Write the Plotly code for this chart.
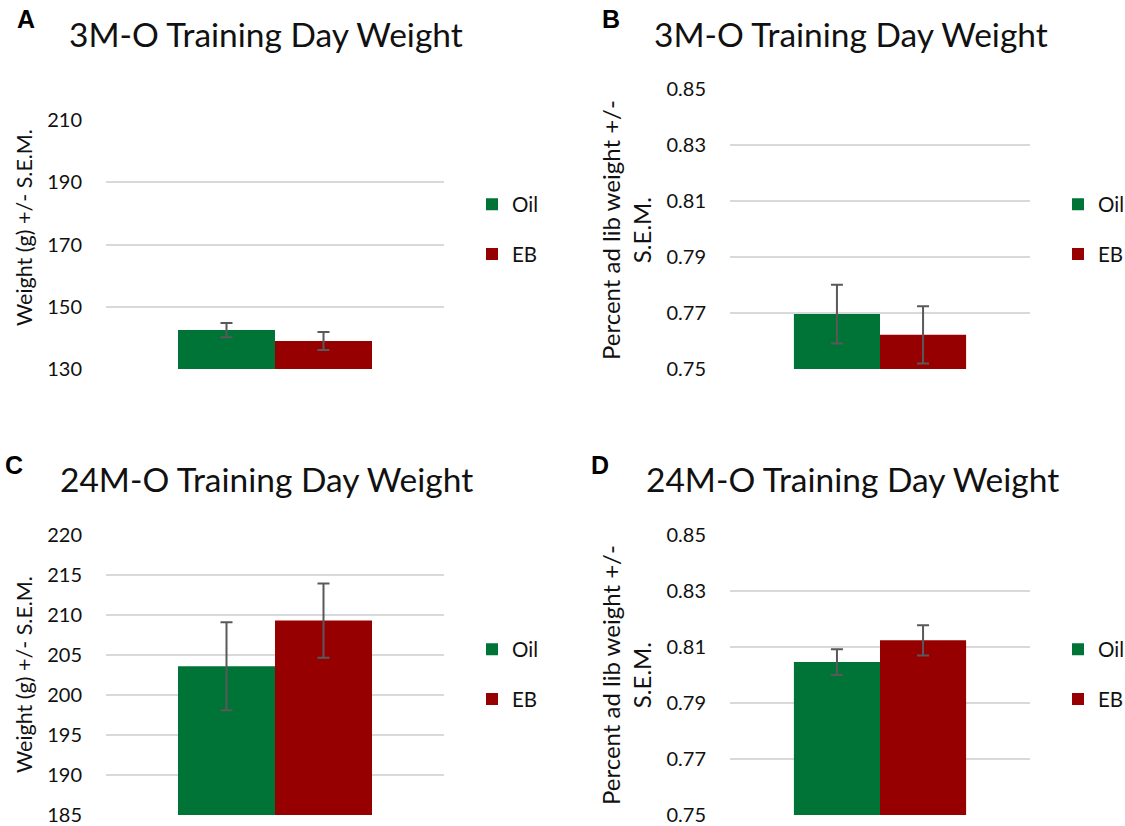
import plotly.graph_objects as go

W, H = 1125, 826

groups = ["Oil", "EB"]
colors = {"Oil": "#007336", "EB": "#960000"}
category = ["Training Day"]

# Panel A: 3M-O weight (g)
a_mean = [142.5, 139.0]
a_sem = [2.3, 2.9]
# Panel B: 3M-O percent ad lib weight
b_mean = [0.7696, 0.7622]
b_sem = [0.0105, 0.0102]
# Panel C: 24M-O weight (g)
c_mean = [203.6, 209.3]
c_sem = [5.5, 4.65]
# Panel D: 24M-O percent ad lib weight
d_mean = [0.8046, 0.8124]
d_sem = [0.0046, 0.0054]

a_ticks = [130, 150, 170, 190, 210]
b_ticks = [0.75, 0.77, 0.79, 0.81, 0.83, 0.85]
c_ticks = [185, 190, 195, 200, 205, 210, 215, 220]
d_ticks = [0.75, 0.77, 0.79, 0.81, 0.83, 0.85]

titles = ["3M-O Training Day Weight", "3M-O Training Day Weight",
          "24M-O Training Day Weight", "24M-O Training Day Weight"]
letters = ["A", "B", "C", "D"]
ytitles = ["Weight (g) +/- S.E.M.", "Percent ad lib weight +/-<br>S.E.M.",
           "Weight (g) +/- S.E.M.", "Percent ad lib weight +/-<br>S.E.M."]
ytitle_sizes = [21.5, 24, 21.5, 24]

FONT = "Lato"
TXT = "#111111"

def px_x(p):
    return p / W

def px_y(p):
    return 1 - p / H

fig = go.Figure()

panels = [
    (a_mean, a_sem, "", "legend"),
    (b_mean, b_sem, "2", "legend2"),
    (c_mean, c_sem, "3", "legend3"),
    (d_mean, d_sem, "4", "legend4"),
]

for means, sems, sfx, leg in panels:
    for i, g in enumerate(groups):
        fig.add_trace(go.Bar(
            x=category, y=[means[i]], name=g,
            marker=dict(color=colors[g], line=dict(width=0)),
            error_y=dict(type="data", array=[sems[i]], visible=True,
                         color="#595959", thickness=2, width=6),
            xaxis="x" + sfx, yaxis="y" + sfx, legend=leg,
            legendgroup=g + sfx, showlegend=True,
        ))

# domains in pixels
xdom_left = [px_x(106), px_x(444)]
xdom_right = [px_x(730), px_x(1030)]
ydom_a = [px_y(369), px_y(120)]
ydom_b = [px_y(369), px_y(89)]
ydom_cd = [px_y(815), px_y(535)]

def yaxis_cfg(dom, ticks, rng, fmt):
    return dict(domain=dom, range=rng, tickvals=ticks, tickformat=fmt,
                showgrid=True, gridcolor="#d9d9d9", gridwidth=1.5,
                zeroline=False, showline=False, ticks="",
                ticklabelstandoff=23, automargin=False,
                tickfont=dict(family=FONT, size=20, color=TXT),
                fixedrange=True)

def xaxis_cfg(dom, anchor):
    return dict(domain=dom, anchor=anchor, showticklabels=False,
                showgrid=False, zeroline=False, showline=False, ticks="",
                automargin=False, fixedrange=True)

layout = dict(
    width=W, height=H, margin=dict(l=0, r=0, t=0, b=0, pad=0, autoexpand=False),
    paper_bgcolor="white", plot_bgcolor="white",
    barmode="group", bargap=0.426, bargroupgap=0,
    font=dict(family=FONT, color=TXT),
    xaxis=xaxis_cfg(xdom_left, "y"),
    yaxis=yaxis_cfg(ydom_a, a_ticks, [130, 210], ".0f") | dict(anchor="x"),
    xaxis2=xaxis_cfg(xdom_right, "y2"),
    yaxis2=yaxis_cfg(ydom_b, b_ticks, [0.75, 0.85], ".2f") | dict(anchor="x2"),
    xaxis3=xaxis_cfg(xdom_left, "y3"),
    yaxis3=yaxis_cfg(ydom_cd, c_ticks, [185, 220], ".0f") | dict(anchor="x3"),
    xaxis4=xaxis_cfg(xdom_right, "y4"),
    yaxis4=yaxis_cfg(ydom_cd, d_ticks, [0.75, 0.85], ".2f") | dict(anchor="x4"),
)

def legend_cfg(x, y):
    return dict(x=x, y=y, xanchor="left", yanchor="middle",
                traceorder="grouped", tracegroupgap=20,
                bgcolor="rgba(0,0,0,0)", itemwidth=30,
                font=dict(family=FONT, size=20.5, color=TXT))

layout["legend"] = legend_cfg(px_x(472), px_y(229.5))
layout["legend2"] = legend_cfg(px_x(1058), px_y(229.5))
layout["legend3"] = legend_cfg(px_x(472), px_y(674.5))
layout["legend4"] = legend_cfg(px_x(1058), px_y(674.5))

fig.update_layout(**layout)

# titles
title_pos = [(266, 34), (851, 34), (266, 479), (852, 479)]
letter_pos = [(26, 19), (611, 19), (14, 465), (600, 465)]
ytitle_pos = [(24, 228), (626, 230), (24, 675), (626, 675)]
for k in range(4):
    tx, ty = title_pos[k]
    fig.add_annotation(x=px_x(tx), y=px_y(ty), xref="paper", yref="paper",
                       text=titles[k], showarrow=False, xanchor="center",
                       yanchor="middle",
                       font=dict(family=FONT, size=33.5, color=TXT))
    lx, ly = letter_pos[k]
    fig.add_annotation(x=px_x(lx), y=px_y(ly), xref="paper", yref="paper",
                       text="<b>" + letters[k] + "</b>", showarrow=False,
                       xanchor="center", yanchor="middle",
                       font=dict(family="Liberation Sans", size=25, color="#000000"))
    yx, yy = ytitle_pos[k]
    fig.add_annotation(x=px_x(yx), y=px_y(yy), xref="paper", yref="paper",
                       text=ytitles[k], showarrow=False, textangle=-90,
                       xanchor="center", yanchor="middle", align="center",
                       font=dict(family=FONT, size=ytitle_sizes[k], color=TXT))

post = ("document.documentElement.style.margin='0px';"
        "document.body.style.margin='0px';"
        "document.body.style.overflow='hidden';")

fig.write_html("out.html", config={"displayModeBar": False}, post_script=post)
